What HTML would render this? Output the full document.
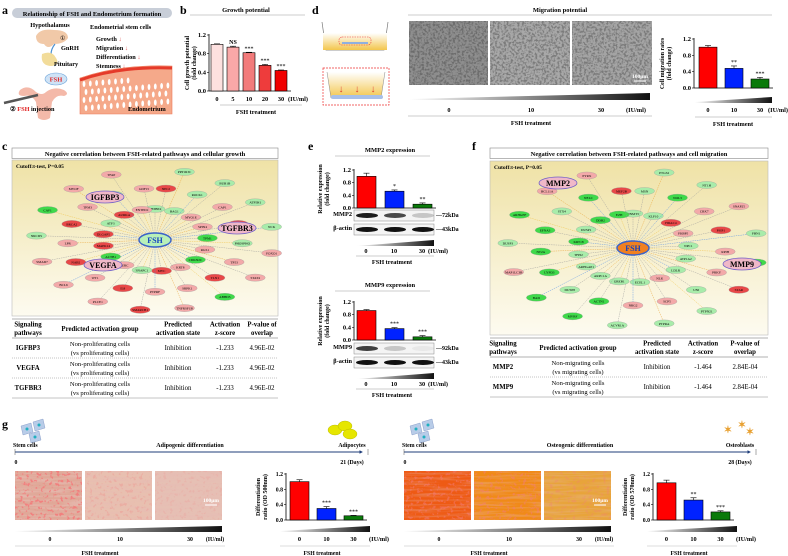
<!DOCTYPE html>
<html><head><meta charset="utf-8">
<style>
html,body{margin:0;padding:0;background:#fff;}
svg{display:block;font-family:"Liberation Serif",serif;}
.b{font-weight:bold;}
</style></head>
<body>
<svg id="fig" width="788" height="556" viewBox="0 0 788 556" xmlns="http://www.w3.org/2000/svg">
<defs>
<filter id="noiseGrey" x="0" y="0" width="100%" height="100%"><feTurbulence type="fractalNoise" baseFrequency="0.45" numOctaves="3" seed="3"/><feColorMatrix type="matrix" values="0 0 0 0 0.15  0 0 0 0 0.15  0 0 0 0 0.15  4.5 0 0 0 -2.0"/></filter>
<filter id="noiseLines" x="0" y="0" width="100%" height="100%"><feTurbulence type="fractalNoise" baseFrequency="0.03 0.45" numOctaves="2" seed="7"/><feColorMatrix type="matrix" values="0 0 0 0 0.8  0 0 0 0 0.5  0 0 0 0 0.45  3 0 0 0 -1.2"/></filter>
<filter id="noiseRed" x="0" y="0" width="100%" height="100%"><feTurbulence type="fractalNoise" baseFrequency="0.3" numOctaves="2" seed="11"/><feColorMatrix type="matrix" values="0 0 0 0 0.9  0 0 0 0 0.2  0 0 0 0 0.2  8 0 0 0 -4.6"/></filter>
<linearGradient id="grad" x1="0" x2="1"><stop offset="0" stop-color="#fff"/><stop offset="1" stop-color="#111"/></linearGradient>
<linearGradient id="netbg" x1="0" y1="0" x2="0" y2="1"><stop offset="0" stop-color="#efe2a6"/><stop offset="1" stop-color="#fdfbf0"/></linearGradient>
<linearGradient id="well" x1="0" y1="0" x2="0" y2="1"><stop offset="0" stop-color="#fff"/><stop offset="1" stop-color="#f3c64c"/></linearGradient>
<marker id="ah" markerWidth="4" markerHeight="4" refX="3" refY="2" orient="auto"><path d="M0,0L4,2L0,4z" fill="#1f3d7a"/></marker>
</defs>

<g>
<text x="2" y="14" class="b" font-size="12">a</text>
<rect x="12" y="8" width="160" height="10" rx="5" fill="#c8ced8"/>
<text x="92" y="16" class="b" font-size="6.5" text-anchor="middle">Relationship of FSH and Endometrium formation</text>
<text x="50" y="27" class="b" font-size="6.3" text-anchor="middle">Hypothalamus</text>
<path d="M36,36 q4,-8 18,-6 q14,0 14,8 q-4,6 -14,6 q-6,6 -10,0 q-8,0 -8,-8z" fill="#f1c9a8"/>
<path d="M55,44 q-8,10 0,22" stroke="#4a90d0" stroke-width="1.2" fill="none"/>
<text x="60" y="40" font-size="6">①</text>
<text x="61" y="50" class="b" font-size="6.3">GnRH</text>
<path d="M42,54 q10,-4 14,4 q4,6 -4,8 q-12,0 -10,-12z" fill="#f2dc9a"/>
<text x="54" y="66" class="b" font-size="6.3">Pituitary</text>
<ellipse cx="56" cy="79" rx="11" ry="6" fill="#cfe3f6" stroke="#6aa2d8" stroke-width="0.6"/>
<text x="56" y="81.5" class="b" font-size="6.5" text-anchor="middle" fill="#e02020">FSH</text>
<path d="M20,90 q8,-6 16,2 q6,4 10,0 q8,-6 18,-2 q6,4 0,6 q-8,-2 -12,6 l-2,16 q-6,4 -12,0 l-2,-16 q-4,-8 -12,-6 q-8,0 -4,-6z" fill="#f4b9a9"/>
<line x1="4" y1="103" x2="38" y2="95" stroke="#555" stroke-width="2.5"/>
<text x="10" y="111" class="b" font-size="6.3">② <tspan fill="#e02020">FSH</tspan> injection</text>
<text x="90" y="29" class="b" font-size="6.3">Endometrial stem cells</text>
<text x="96" y="41" class="b" font-size="6.3">Growth <tspan fill="#e05050">↓</tspan></text>
<text x="96" y="50" class="b" font-size="6.3">Migration <tspan fill="#e05050">↓</tspan></text>
<text x="96" y="59" class="b" font-size="6.3">Differentiation <tspan fill="#e05050">↓</tspan></text>
<text x="96" y="68" class="b" font-size="6.3">Stemness <tspan fill="#e05050">↓</tspan></text>
<path d="M80,78 q40,-14 92,-12 l0,48 l-92,0z" fill="#f5a98a" stroke="#ee7a5a" stroke-width="0.6"/>
<path d="M80,80 q40,-14 92,-12" stroke="#e53a2a" stroke-width="3" fill="none"/>
<g id="holes" fill="#fff"></g>
<text x="128" y="111" class="b" font-size="6.3">Endometrium</text>
</g>

<g>
<text x="180" y="14" class="b" font-size="12">b</text>
<text x="246" y="12" class="b" font-size="6.5" text-anchor="middle">Growth potential</text>
<line x1="190" y1="15" x2="305" y2="15" stroke="#ccc"/>
<g id="chartB"></g>
<line x1="220" y1="105" x2="302" y2="105" stroke="#ccc"/>
<text x="256" y="114" class="b" font-size="6.3" text-anchor="middle">FSH treatment</text>
</g>

<g>
<text x="312" y="14" class="b" font-size="12">d</text>
<path d="M322,22 l4,28 l58,0 l4,-28" fill="none" stroke="#777" stroke-width="0.7"/>
<rect x="323" y="33" width="64" height="17" fill="url(#well)"/>
<rect x="339" y="37" width="32" height="8" rx="3" fill="none" stroke="#e33" stroke-width="0.6" stroke-dasharray="1.5,1"/>
<rect x="342" y="42" width="26" height="2" fill="#8fb0e0"/>
<rect x="323" y="68" width="66" height="37" fill="none" stroke="#e33" stroke-width="0.7" stroke-dasharray="2,1"/>
<path d="M327,72 l4,26 l50,0 l4,-26" fill="url(#well)" stroke="#888" stroke-width="0.5"/>
<rect x="331" y="95" width="52" height="4" rx="2" fill="#a8c0e8"/>
<text x="341" y="92" fill="#e04030" font-size="10" text-anchor="middle">↓</text>
<text x="357" y="92" fill="#e04030" font-size="10" text-anchor="middle">↓</text>
<text x="373" y="92" fill="#e04030" font-size="10" text-anchor="middle">↓</text>
<text x="560" y="12" class="b" font-size="6.5" text-anchor="middle">Migration potential</text>
<line x1="408" y1="15" x2="772" y2="15" stroke="#ccc"/>
<g>
<rect x="409" y="21" width="79" height="64" fill="#8e8e8e"/><rect x="409" y="21" width="79" height="64" filter="url(#noiseGrey)" opacity="1"/>
<rect x="490" y="21" width="80" height="64" fill="#a8a8a8"/><rect x="490" y="21" width="80" height="64" filter="url(#noiseGrey)" opacity="0.75"/>
<rect x="572" y="21" width="80" height="64" fill="#a4a4a4"/><rect x="572" y="21" width="80" height="64" filter="url(#noiseGrey)" opacity="0.75"/>
<text x="640" y="78" fill="#fff" font-size="5.5" class="b" text-anchor="middle">100μm</text>
<line x1="634" y1="81" x2="646" y2="81" stroke="#fff" stroke-width="1"/>
</g>
<polygon points="410,99 650,93 650,100 410,100" fill="url(#grad)"/>
<text x="449" y="112" class="b" font-size="6.3" text-anchor="middle">0</text>
<text x="531" y="112" class="b" font-size="6.3" text-anchor="middle">10</text>
<text x="601" y="112" class="b" font-size="6.3" text-anchor="middle">30</text>
<text x="636" y="112" class="b" font-size="6.3" text-anchor="middle">(IU/ml)</text>
<line x1="408" y1="116" x2="652" y2="116" stroke="#ccc"/>
<text x="531" y="125" class="b" font-size="6.3" text-anchor="middle">FSH treatment</text>
<g id="chartD"></g>
<line x1="695" y1="117" x2="772" y2="117" stroke="#ccc"/>
<text x="733" y="126" class="b" font-size="6.3" text-anchor="middle">FSH treatment</text>
</g>

<g>
<text x="2" y="150" class="b" font-size="12">c</text>
<rect x="12" y="148" width="266" height="10.5" fill="#fff" stroke="#888" stroke-width="0.6"/>
<text x="145" y="156" class="b" font-size="6.5" text-anchor="middle">Negative correlation between FSH-related pathways and cellular growth</text>
<rect x="12" y="160" width="266" height="156" fill="url(#netbg)" stroke="#bbb" stroke-width="0.6"/>
<text x="16" y="168" class="b" font-size="5.5">Cutoff:t-test, P=0.05</text>
<g id="netC"></g>
<g id="tableC"></g>
</g>

<g>
<text x="308" y="150" class="b" font-size="12">e</text>
<text x="390" y="152" class="b" font-size="6.5" text-anchor="middle">MMP2 expression</text>
<line x1="335" y1="156" x2="430" y2="156" stroke="#ccc"/>
<g id="chartE1"></g>
<text x="390" y="287" class="b" font-size="6.5" text-anchor="middle">MMP9 expression</text>
<line x1="335" y1="291" x2="430" y2="291" stroke="#ccc"/>
<g id="chartE2"></g>
</g>

<g>
<text x="472" y="150" class="b" font-size="12">f</text>
<rect x="490" y="148" width="278" height="10.5" fill="#fff" stroke="#888" stroke-width="0.6"/>
<text x="629" y="156" class="b" font-size="6.5" text-anchor="middle">Negative correlation between FSH-related pathways and cell migration</text>
<rect x="490" y="161" width="278" height="174" fill="url(#netbg)" stroke="#bbb" stroke-width="0.6"/>
<text x="494" y="169" class="b" font-size="5.5">Cutoff:t-test, P=0.05</text>
<g id="netF"></g>
<g id="tableF"></g>
</g>

<g>
<text x="2" y="428" class="b" font-size="12">g</text>
<g id="gAdipo"></g>
<g id="gOsteo"></g>
</g>
</svg>

<script>
const tickValues = [0, 0.4, 0.8, 1.2];
const growthCategories = ["0", "5", "10", "20", "30"];
const growthValues = [1.0, 0.94, 0.82, 0.55, 0.44];
const growthErrors = [0.01, 0.02, 0.01, 0.02, 0.01];
const growthSig = ["", "NS", "***", "***", "***"];
const doseCategories = ["0", "10", "30"];
const migrationValues = [1.0, 0.48, 0.22];
const migrationErrors = [0.04, 0.06, 0.04];
const migrationSig = ["", "**", "***"];
const mmp2Values = [1.0, 0.53, 0.12];
const mmp2Errors = [0.1, 0.04, 0.04];
const mmp2Sig = ["", "*", "**"];
const mmp9Values = [0.93, 0.36, 0.1];
const mmp9Errors = [0.03, 0.03, 0.04];
const mmp9Sig = ["", "***", "***"];
const adipoValues = [1.0, 0.3, 0.11];
const adipoErrors = [0.05, 0.05, 0.01];
const adipoSig = ["", "***", "***"];
const osteoValues = [0.97, 0.52, 0.21];
const osteoErrors = [0.07, 0.06, 0.03];
const osteoSig = ["", "**", "***"];

const NS = "http://www.w3.org/2000/svg";
function mk(parent, tag, attrs, name) {
  const el = document.createElementNS(NS, tag);
  for (const k in attrs) el.setAttribute(k, attrs[k]);
  
  
  parent.appendChild(el);
  return el;
}
function txt(parent, x, y, s, size, name, anchor, extra) {
  const el = mk(parent, 'text', Object.assign({x: x, y: y, 'font-size': size, 'text-anchor': anchor || 'middle', 'font-weight': 'bold'}, extra || {}), name);
  el.textContent = s;
  return el;
}

function barChart(g, o, cats, vals, errs, sig, colors, prefix) {
  const ys = v => o.y0 - (v / 1.2) * (o.y0 - o.y1);
  const xs = i => o.bx0 + i * o.step;
  mk(g, 'line', {x1: o.ax, y1: o.y1 - 1, x2: o.ax, y2: o.y0, stroke: '#000', 'stroke-width': 0.8}, prefix + '-y-axis');
  mk(g, 'line', {x1: o.ax, y1: o.y0, x2: xs(cats.length - 1) + o.bw + 4, y2: o.y0, stroke: '#000', 'stroke-width': 0.8}, prefix + '-x-axis');
  tickValues.forEach(t => {
    mk(g, 'line', {x1: o.ax - 2, y1: ys(t), x2: o.ax, y2: ys(t), stroke: '#000', 'stroke-width': 0.6}, prefix + '-tick');
    txt(g, o.ax - 3, ys(t) + 2, t.toFixed(1), o.fs || 6.5, prefix + '-tick-label', 'end');
  });
  vals.forEach((v, i) => {
    const x = xs(i);
    mk(g, 'rect', {x: x, y: ys(v), width: o.bw, height: o.y0 - ys(v), fill: colors[i], stroke: '#000', 'stroke-width': 0.6}, prefix + '-bar-' + cats[i]);
    const ey = ys(v + errs[i]);
    mk(g, 'line', {x1: x + o.bw / 2, y1: ys(v), x2: x + o.bw / 2, y2: ey, stroke: '#000', 'stroke-width': 0.6}, prefix + '-error-bar');
    mk(g, 'line', {x1: x + o.bw / 2 - 3, y1: ey, x2: x + o.bw / 2 + 3, y2: ey, stroke: '#000', 'stroke-width': 0.6}, prefix + '-error-cap');
    if (sig[i]) txt(g, x + o.bw / 2, ey - 2, sig[i], 6, prefix + '-sig-label', 'middle', {'font-weight': sig[i] === 'NS' ? 'bold' : 'normal'});
    if (o.labelY) txt(g, x + o.bw / 2, o.labelY, cats[i], 6.3, prefix + '-x-label');
  });
  if (o.unitX) txt(g, o.unitX, o.labelY, '(IU/ml)', 6.3, prefix + '-unit-label');
  if (o.ylab) {
    const t = mk(g, 'text', {transform: 'translate(' + o.ylx + ',' + ((o.y0 + o.y1) / 2) + ') rotate(-90)', 'font-size': 6, 'text-anchor': 'middle', 'font-weight': 'bold'}, prefix + '-y-title');
    o.ylab.forEach((l, k) => { const s = document.createElementNS(NS, 'tspan'); s.setAttribute('x', 0); s.setAttribute('dy', k ? 7 : 0); s.textContent = l; t.appendChild(s); });
  }
  if (o.gradY) mk(g, 'polygon', {points: `${o.gx0},${o.gradY + 5} ${o.gx1},${o.gradY} ${o.gx1},${o.gradY + 6} ${o.gx0},${o.gradY + 6}`, fill: 'url(#grad)'}, prefix + '-dose-gradient');
}
const RBG = ['#ff0000', '#0022ff', '#0a7a0a'];

barChart(document.getElementById('chartB'), {ax: 209, y0: 91, y1: 35, bx0: 211, step: 16, bw: 12, labelY: 101, unitX: 298, ylab: ['Cell growth potential', '(fold change)'], ylx: 189},
  growthCategories, growthValues, growthErrors, growthSig, ['#fde0df', '#f9a8a8', '#f27b7b', '#ee3c3c', '#f00000'], 'growth');
barChart(document.getElementById('chartD'), {ax: 694, y0: 88, y1: 39, bx0: 699, step: 26, bw: 18, labelY: 112, unitX: 778, ylab: ['Cell migration rates', '(fold change)'], ylx: 664, gradY: 97, gx0: 695, gx1: 772},
  doseCategories, migrationValues, migrationErrors, migrationSig, RBG, 'migration');

function blot(g, y, label, kda, name, strength) {
  txt(g, 352, y + 6, label, 6.3, name + '-label', 'end');
  mk(g, 'rect', {x: 354, y: y, width: 80, height: 11, fill: '#f4f4f4', stroke: '#888', 'stroke-width': 0.5}, name + '-box');
  strength.forEach((s, i) => mk(g, 'ellipse', {cx: 367 + i * 28, cy: y + 5.5, rx: 11, ry: 2.5, fill: '#111', opacity: s}, name + '-band'));
  txt(g, 436, y + 7, '—' + kda, 6, name + '-kda', 'start');
}
const e1 = document.getElementById('chartE1');
barChart(e1, {ax: 354, y0: 208, y1: 170, bx0: 357, step: 28, bw: 19, ylab: ['Relative expression', '(fold change)'], ylx: 322}, doseCategories, mmp2Values, mmp2Errors, mmp2Sig, RBG, 'mmp2');
blot(e1, 210, 'MMP2', '72kDa', 'mmp2-blot', [0.95, 0.75, 0.2]);
blot(e1, 224, 'β-actin', '43kDa', 'mmp2-actin-blot', [1, 1, 1]);
mk(e1, 'polygon', {points: '356,246 434,240 434,246 356,246', fill: 'url(#grad)'}, 'mmp2-dose-gradient');
doseCategories.forEach((c, i) => txt(e1, 366 + i * 28, 253, c, 6.3, 'mmp2-x-label'));
txt(e1, 438, 253, '(IU/ml)', 6.3, 'mmp2-unit-label');
mk(e1, 'line', {x1: 356, y1: 256, x2: 434, y2: 256, stroke: '#ccc'}, 'mmp2-xrule');
txt(e1, 392, 264, 'FSH treatment', 6.3, 'mmp2-x-title');
const e2 = document.getElementById('chartE2');
barChart(e2, {ax: 354, y0: 340, y1: 302, bx0: 357, step: 28, bw: 19, ylab: ['Relative expression', '(fold change)'], ylx: 322}, doseCategories, mmp9Values, mmp9Errors, mmp9Sig, RBG, 'mmp9');
blot(e2, 343, 'MMP9', '92kDa', 'mmp9-blot', [0.8, 0.2, 0.05]);
blot(e2, 357, 'β-actin', '43kDa', 'mmp9-actin-blot', [1, 1, 1]);
mk(e2, 'polygon', {points: '356,379 434,373 434,379 356,379', fill: 'url(#grad)'}, 'mmp9-dose-gradient');
doseCategories.forEach((c, i) => txt(e2, 366 + i * 28, 386, c, 6.3, 'mmp9-x-label'));
txt(e2, 438, 386, '(IU/ml)', 6.3, 'mmp9-unit-label');
mk(e2, 'line', {x1: 356, y1: 389, x2: 434, y2: 389, stroke: '#ccc'}, 'mmp9-xrule');
txt(e2, 392, 397, 'FSH treatment', 6.3, 'mmp9-x-title');

const holes = document.getElementById('holes');
for (let i = 0; i < 14; i++) for (let j = 0; j < 4; j++) {
  const x = 84 + i * 6.3 + (j % 2) * 2, y = 80 + j * 8 - (i * 0.5);
  if (y > 76 && y < 108) mk(holes, 'ellipse', {cx: x, cy: y + 4, rx: 1.4, ry: 3, fill: '#fff'}, 'gland');
}

const colMap = {r: '#e84848', p: '#f3a9a9', g: '#3fd94a', l: '#a8ecaa'};
function network(id, cx, cy, rx, ry, nodes, hubFill, hubText, big) {
  const g = document.getElementById(id);
  const n = nodes.length;
  const edgeCols = ['#999', '#999', '#e8a030', '#999', '#4a8ae8', '#999', '#f0c040'];
  nodes.forEach((nd, i) => {
    const a = (i / n) * Math.PI * 2 - Math.PI / 2;
    const r = [0.42, 0.7, 0.95][i % 3];
    const x = cx + Math.cos(a) * rx * r, y = cy + Math.sin(a) * ry * r;
    mk(g, 'line', {x1: cx, y1: cy, x2: x, y2: y, stroke: edgeCols[i % 7], 'stroke-width': 0.4, 'stroke-dasharray': '1.5,0.8'}, 'network-edge');
    mk(g, 'ellipse', {cx: x, cy: y, rx: 10, ry: 3.6, fill: colMap[nd[1]], stroke: '#999', 'stroke-width': 0.3}, 'network-node');
    txt(g, x, y + 1.3, nd[0], 3.4, 'network-node-label', 'middle', {'font-weight': 'normal'});
  });
  mk(g, 'ellipse', {cx: cx, cy: cy, rx: 16, ry: 7, fill: hubFill, stroke: '#3a62c8', 'stroke-width': 1.4}, 'fsh-hub');
  txt(g, cx, cy + 3, 'FSH', 8, 'fsh-hub-label', 'middle', {fill: hubText});
  big.forEach(b => {
    mk(g, 'ellipse', {cx: b[1], cy: b[2] - 3, rx: 19, ry: 6, fill: '#f0b8c8', stroke: '#7060c8', 'stroke-width': 0.8}, 'key-gene-node');
    txt(g, b[1], b[2], b[0], 8, 'key-gene-label');
  });
}
network('netC', 155, 240, 125, 74, [
  ['SH3BP4','l'],['NPC2','r'],['PPP1R3C','l'],['BAG1','l'],['ROCK1','l'],['BUB1B','l'],['MYO1E','p'],['CAP1','p'],['ATP5H1','l'],['SPIN4','p'],
  ['CBLB','r'],['NCK','l'],['TPM1','g'],['PHOSPHO','l'],['FOXO1','p'],['RGS1','p'],['TP53','p'],['STAT4','p'],['CDKN2C','g'],['TLN1','r'],
  ['ABHD5','g'],['KRT8','p'],['SRPK1','p'],['TNFRSF1B','p'],['MYC','r'],['PTPRF','p'],['SMARCB1','r'],['SNAPC1','l'],['IL8','r'],['PLCE1','p'],
  ['TERC','p'],['WT1','p'],['BCL6','p'],['ACTB1','g'],['NAB2','r'],['SMAD7','p'],['MAPK14','r'],['LPR','p'],['NRCDS','l'],['DLGAP5','r'],
  ['BRCA2','r'],['CAV1','g'],['ATF3','l'],['TPM3','p'],['MYOF','p'],['AURKA','r'],['ATP5A1','l'],['TFAP','p'],['ENTPD1','p'],['GDF15','p']
], '#b8f0b8', '#1040c0', [['IGFBP3', 105, 200], ['TGFBR3', 237, 231], ['VEGFA', 103, 268]]);
network('netF', 633, 248, 132, 82, [
  ['DNMT3','l'],['MSN','l'],['PTGS2','l'],['KLF10','l'],['NOL3','g'],['NT1H','l'],['HDAC4','r'],['CBX7','p'],['SNAP25','p'],['FKBP5','p'],
  ['PSIP1','r'],['FBN1','l'],['NPC1','l'],['RPIH','p'],['GATA6','g'],['ATP1A2','l'],['PRKY','p'],['STAR','r'],['LDLR','l'],['UNI','l'],
  ['PTPN21','l'],['NLK','p'],['SCP5','p'],['PTPRA','l'],['ECEL1','l'],['NRG2','p'],['ACVR1A','l'],['GREB1','l'],['ACTN1','g'],['MVRF','g'],
  ['ARPC1A','l'],['DUSP8','l'],['BAD','g'],['ARHGAP1','l'],['LYPD3','g'],['MAP1LC3B','p'],['TFPI2','l'],['NT2A','g'],['DUSP3','l'],['KRT18','g'],
  ['EFNA3','g'],['ARHGEF','g'],['DUSP1','l'],['STX4','l'],['BCL11A','p'],['DDB2','g'],['NELC','g'],['PYRX','p'],['EZH','g'],['MEF2B','r']
], '#f08020', '#1040c0', [['MMP2', 558, 186], ['MMP9', 742, 267]]);

function table(id, x0, x1, yTop, cols, rows, groupText) {
  const g = document.getElementById(id);
  mk(g, 'line', {x1: x0, y1: yTop, x2: x1, y2: yTop, stroke: '#666', 'stroke-width': 0.6}, 'table-top-rule');
  const heads = [['Signaling', 'pathways'], ['Predicted activation group'], ['Predicted', 'activation state'], ['Activation', 'z-score'], ['P-value of', 'overlap']];
  heads.forEach((h, i) => h.forEach((l, k) => txt(g, cols[i], yTop + (h.length === 1 ? 12 : 7.5 + k * 8.5), l, 6.8, 'table-header')));
  const hb = yTop + 19;
  mk(g, 'line', {x1: x0, y1: hb, x2: x1, y2: hb, stroke: '#666', 'stroke-width': 0.6}, 'table-header-rule');
  rows.forEach((r, i) => {
    const y = hb + i * 20;
    txt(g, cols[0], y + 12, r[0], 6.8, 'table-pathway');
    txt(g, cols[1], y + 8, groupText[0], 6.6, 'table-group', 'middle', {'font-weight': 'normal'});
    txt(g, cols[1], y + 17, groupText[1], 6.6, 'table-group', 'middle', {'font-weight': 'normal'});
    txt(g, cols[2], y + 12, 'Inhibition', 6.8, 'table-state', 'middle', {'font-weight': 'normal'});
    txt(g, cols[3], y + 12, r[1], 6.8, 'table-zscore', 'middle', {'font-weight': 'normal'});
    txt(g, cols[4], y + 12, r[2], 6.8, 'table-pvalue', 'middle', {'font-weight': 'normal'});
    mk(g, 'line', {x1: x0, y1: y + 20, x2: x1, y2: y + 20, stroke: '#888', 'stroke-width': 0.5, 'stroke-dasharray': i === rows.length - 1 ? '' : '1,1'}, 'table-row-rule');
  });
}
table('tableC', 12, 278, 319, [28, 100, 178, 225, 262], [['IGFBP3', '-1.233', '4.96E-02'], ['VEGFA', '-1.233', '4.96E-02'], ['TGFBR3', '-1.233', '4.96E-02']], ['Non-proliferating cells', '(vs proliferating cells)']);
table('tableF', 490, 768, 338, [503, 578, 657, 703, 745], [['MMP2', '-1.464', '2.84E-04'], ['MMP9', '-1.464', '2.84E-04']], ['Non-migrating cells', '(vs migrating cells)']);

function diffSection(id, o) {
  const g = document.getElementById(id);
  [[0, 0], [12, -4], [8, 8]].forEach(p => {
    mk(g, 'polygon', {points: `${o.x0 + 6 + p[0]},${426 + p[1]} ${o.x0 + 16 + p[0]},${423 + p[1]} ${o.x0 + 18 + p[0]},${432 + p[1]} ${o.x0 + 8 + p[0]},${435 + p[1]}`, fill: '#b8cce8', stroke: '#7a90c0', 'stroke-width': 0.4}, 'stem-cell-icon');
    mk(g, 'circle', {cx: o.x0 + 12 + p[0], cy: 429 + p[1], r: 1.5, fill: '#20b0c0'}, 'stem-cell-nucleus');
  });
  txt(g, o.x0 - 2, 447, 'Stem cells', 5.8, 'stem-cells-label', 'start');
  txt(g, o.titleX, 447, o.title, 6, 'differentiation-title');
  txt(g, o.endX, 447, o.endLabel, 5.8, 'end-cell-label');
  o.endIcon(g);
  mk(g, 'line', {x1: o.x0, y1: 452, x2: o.arrowEnd, y2: 452, stroke: '#1f3d7a', 'stroke-width': 0.9, 'marker-end': 'url(#ah)'}, 'timeline-arrow');
  mk(g, 'line', {x1: o.x0, y1: 449, x2: o.x0, y2: 455, stroke: '#555', 'stroke-width': 0.5}, 'timeline-start-tick');
  mk(g, 'line', {x1: o.arrowEnd + 6, y1: 449, x2: o.arrowEnd + 6, y2: 455, stroke: '#555', 'stroke-width': 0.5}, 'timeline-end-tick');
  txt(g, o.x0 + 1, 464, '0', 5.8, 'timeline-start-label');
  txt(g, o.endX, 464, o.days, 5.8, 'timeline-end-label');
  o.imgs.forEach((c, i) => {
    const x = o.x0 + i * 70;
    mk(g, 'rect', {x: x, y: 471, width: 67, height: 49, fill: c}, 'stain-image');
    mk(g, 'rect', {x: x, y: 471, width: 67, height: 49, filter: 'url(#noiseLines)', opacity: o.noiseOp}, 'stain-texture');
    if (o.specks && o.specks[i]) mk(g, 'rect', {x: x, y: 471, width: 67, height: 49, filter: 'url(#noiseRed)', opacity: o.specks[i]}, 'stain-specks');
  });
  txt(g, o.x0 + 196, 502, '100μm', 5.5, 'scale-bar-label', 'middle', {fill: '#fff'});
  mk(g, 'line', {x1: o.x0 + 190, y1: 505, x2: o.x0 + 202, y2: 505, stroke: '#fff', 'stroke-width': 1}, 'scale-bar');
  mk(g, 'polygon', {points: `${o.x0},531 ${o.x0 + 207},526 ${o.x0 + 207},532 ${o.x0},532`, fill: 'url(#grad)'}, 'dose-gradient');
  ['0', '10', '30'].forEach((c, i) => txt(g, o.x0 + 35 + i * 70, 541, c, 5.8, 'dose-label'));
  txt(g, o.x0 + 200, 541, '(IU/ml)', 5.8, 'dose-unit-label');
  mk(g, 'line', {x1: o.x0, y1: 546, x2: o.x0 + 210, y2: 546, stroke: '#ddd'}, 'x-rule');
  txt(g, o.x0 + 85, 555, 'FSH treatment', 5.8, 'x-title');
  barChart(g, {ax: o.ax, y0: 520, y1: 474, bx0: o.ax + 4, step: 27, bw: 19, labelY: 541, unitX: o.ax + 93, fs: 5.8, ylab: ['Differentiation', o.ylab], ylx: o.ax - 26, gradY: 526, gx0: o.ax - 6, gx1: o.ax + 84}, doseCategories, o.vals, o.errs, o.sig, RBG, o.prefix);
  mk(g, 'line', {x1: o.ax - 6, y1: 546, x2: o.ax + 84, y2: 546, stroke: '#ddd'}, 'chart-x-rule');
  txt(g, o.ax + 36, 555, 'FSH treatment', 5.8, 'chart-x-title');
}
diffSection('gAdipo', {x0: 15, titleX: 190, title: 'Adipogenic differentiation', endX: 352, endLabel: 'Adipocytes', days: '21 (Days)', arrowEnd: 362,
  imgs: ['#e0a898', '#e8c0b0', '#e6c0b4'], noiseOp: 0.7, specks: [0.9, 0.25, 0.15], ax: 286, ylab: 'ratio (OD 500nm)', vals: adipoValues, errs: adipoErrors, sig: adipoSig, prefix: 'adipogenic',
  endIcon: g => [[335, 430], [345, 426], [350, 434]].forEach(p => mk(g, 'ellipse', {cx: p[0], cy: p[1], rx: 7, ry: 5, fill: '#e6e600', stroke: '#b0b000', 'stroke-width': 0.4}, 'adipocyte-icon'))});
diffSection('gOsteo', {x0: 404, titleX: 580, title: 'Osteogenic differentiation', endX: 740, endLabel: 'Osteoblasts', days: '28 (Days)', arrowEnd: 750,
  imgs: ['#ee5a14', '#f08a18', '#e8a43a'], noiseOp: 0.3, specks: [0.5, 0.5, 0.3], ax: 653, ylab: 'ratio (OD 570nm)', vals: osteoValues, errs: osteoErrors, sig: osteoSig, prefix: 'osteogenic',
  endIcon: g => [[728, 430], [742, 425], [750, 432]].forEach(p => txt(g, p[0], p[1] + 3, '✶', 10, 'osteoblast-icon', 'middle', {fill: '#e8a030'}))});
</script>
</body></html>
